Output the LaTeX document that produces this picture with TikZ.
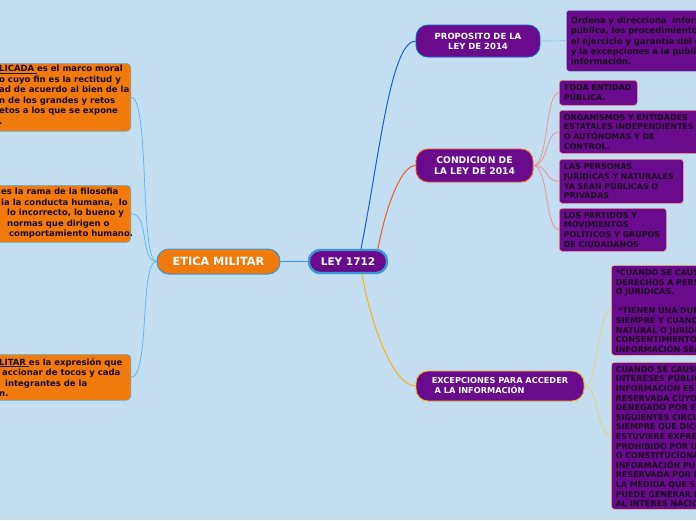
\documentclass[tikz,border=0pt]{standalone}
\usepackage{fontspec}
\setsansfont{DejaVu Sans}
\usetikzlibrary{positioning,calc}
\definecolor{Sky}{HTML}{C3DEF1}
\definecolor{Plum}{HTML}{6A0A8C}
\definecolor{Tangerine}{HTML}{F07A0C}
\definecolor{HubBlue}{HTML}{3A96D6}
\definecolor{PropBlue}{HTML}{1560D0}
\definecolor{CondRed}{HTML}{EE5A2A}
\definecolor{ExcGold}{HTML}{F5B410}
\definecolor{EthLine}{HTML}{5AB6EC}
\definecolor{CondPink}{HTML}{EE9080}
\definecolor{ExcSand}{HTML}{EDCB78}
\definecolor{Ink}{HTML}{1A0A1E}

\begin{document}
\begin{tikzpicture}[x=1pt,y=-1pt,
  hub/.style={rounded corners=11pt,fill=Plum,draw=HubBlue,line width=2.4pt,text=white,inner sep=0pt,
    font=\sffamily\bfseries\fontsize{10.5}{12}\selectfont},
  branch/.style={rounded corners=12pt,fill=Plum,text=white,line width=0.9pt,inner sep=0pt,align=center,
    font=\sffamily\bfseries\fontsize{8.2}{10}\selectfont},
  leaf/.style={rounded corners=3pt,fill=Plum,text=Ink,line width=0.6pt,inner xsep=4.5pt,inner ysep=2pt,
    align=left,anchor=north west,font=\sffamily\bfseries\fontsize{8}{9.6}\selectfont},
  ethbox/.style={rounded corners=4pt,fill=Tangerine,draw=EthLine,line width=0.5pt,anchor=north east,
    minimum width=170pt,inner sep=0pt},
  ethnote/.style={anchor=north west,align=left,inner sep=0pt,text=Ink,
    font=\sffamily\bfseries\fontsize{8.5}{10.5}\selectfont},
  link/.style={line width=0.7pt}]
\useasboundingbox (0,0) rectangle (696,520);
\fill[Sky] (0,0) rectangle (696,520);
\clip (0,0) rectangle (696,520);

% centre and first level
\node[hub,minimum width=78pt,minimum height=23pt] (ley) at (348,261.5) {LEY 1712};
\node[hub,fill=Tangerine,line width=1pt,minimum width=123pt,minimum height=25pt,rounded corners=12pt,
  font=\sffamily\bfseries\fontsize{11.3}{12}\selectfont] (etica) at (218.5,261.5) {ETICA MILITAR};
\node[branch,draw=PropBlue,minimum width=124pt,minimum height=32pt,
  font=\sffamily\bfseries\fontsize{8.5}{10}\selectfont] (proposito) at (478,41) {PROPOSITO DE LA\\LEY DE 2014};
\node[branch,draw=CondRed,minimum width=117pt,minimum height=33pt,
  font=\sffamily\bfseries\fontsize{9.2}{10.7}\selectfont] (condicion) at (474.5,165.5) {CONDICION DE\\LA LEY DE 2014};
\node[branch,draw=ExcGold,align=left,minimum width=168pt,minimum height=30pt] (excepciones) at (500,386)
  {EXCEPCIONES PARA ACCEDER\\\ A LA INFORMACIÓN};

% leaves on the right
\node[leaf,draw=PropBlue!45,text width=230pt,minimum height=61pt,
  font=\sffamily\bfseries\fontsize{8.5}{10.3}\selectfont] (propdesc) at (566,10)
  {Ordena y direcciona\ \ información\\pública, los procedimientos para\\el ejercicio y garantía del derecho\\y la excepciones a la publicidad de la\\información.};
\node[leaf,draw=CondPink,text width=69pt,minimum height=25pt] (toda) at (559,80) {TODA ENTIDAD\\PÚBLICA.};
\node[leaf,draw=CondPink,text width=200pt,minimum height=43pt] (organismos) at (559,110)
  {ORGANISMOS Y ENTIDADES\\ESTATALES INDEPENDIENTES\\O AUTÓNOMAS Y DE\\CONTROL.};
\node[leaf,draw=CondPink,text width=115pt,minimum height=44pt] (personas) at (559,159)
  {LAS PERSONAS\\JURÍDICAS Y NATURALES\\YA SEAN PÚBLICAS O\\PRIVADAS};
\node[leaf,draw=CondPink,text width=98pt,minimum height=43pt] (partidos) at (559,208)
  {LOS PARTIDOS Y\\MOVIMIENTOS\\POLÍTICOS Y GRUPOS\\DE CIUDADANOS};
\node[leaf,draw=ExcSand,text width=250pt,minimum height=90pt] (causa) at (611,265)
  {*CUANDO SE CAUSE DAÑO A LOS\\DERECHOS A PERSONAS NATURALES\\O JURÍDICAS.\\[9.6pt]
   \ *TIENEN UNA DURACIÓN ILIMITADA\\SIEMPRE Y CUANDO LA PERSONA\\NATURAL O JURÍDICA NO DIERA SU\\CONSENTIMIENTO PARA QUE LA\\INFORMACIÓN SEA PUBLICADA};
\node[leaf,draw=ExcSand,text width=250pt,minimum height=147pt] (reserva) at (611,362)
  {CUANDO SE CAUSE DAÑO A LOS\\INTERESES PÚBLICOS LA\\INFORMACIÓN ES CLASIFICADA O\\RESERVADA CUYO ACCESO PODRÁ SER\\DENEGADO POR EXISTIR LAS\\SIGUIENTES CIRCUNSTANCIAS,\\SIEMPRE QUE DICHO ACCESO\\ESTUVIERE EXPRESAMENTE\\PROHIBIDO POR UNA NORMA LEGAL\\O CONSTITUCIONAL. LA\\INFORMACIÓN PUEDE SER\\RESERVADA POR DEFENSA EN\\LA MEDIDA QUE SU DIVULGACIÓN\\PUEDE GENERAR DAÑOS\\AL INTERES NACIONAL};

% leaves on the left
\node[ethbox,minimum height=68pt] (marco) at (131,63) {};
\node[ethnote] (marcotxt) at (-1,65)
  {\underline{LICADA\ }es el marco moral\\o cuyo fin es la rectitud y\\ad de acuerdo al bien de la\\n de los grandes y retos\\etos a los que se expone\\.};
\node[ethbox,minimum height=57pt] (rama) at (131,185) {};
\node[ethnote] (ramatxt) at (1,188)
  {es la rama de la filosofia\\ia la conducta humana,\ \ lo\\\hspace*{6pt}lo incorrecto, lo bueno y\\\hspace*{6pt}normas que dirigen o\\\hspace*{8pt}comportamiento humano.};
\node[ethbox,minimum height=46pt] (accionar) at (131,354) {};
\node[ethnote] (accionartxt) at (-1,358)
  {\underline{LITAR\ }es la expresión que\\\hspace*{3pt}accionar de tocos y cada\\\hspace*{6pt}integrantes de la\\n.};

% connectors
\draw[HubBlue,line width=1.2pt] (ley.west) -- (etica.east);
\draw[PropBlue,line width=1pt] ([xshift=13pt]ley.north) .. controls +(18,-90) and +(-25,0) .. (proposito.west);
\draw[CondRed,line width=1pt] ([xshift=30pt]ley.north) .. controls +(6,-34) and +(-16,0) .. (condicion.west);
\draw[ExcGold,line width=1pt] ([xshift=14pt]ley.south) .. controls +(10,56) and +(-21,0) .. (excepciones.west);
\draw[EthLine!80,link] (proposito.east) -- (propdesc.west);
\foreach \leafname in {toda,organismos,personas,partidos}
  \draw[CondPink,link] (condicion.east) .. controls +(15,0) and +(-14,0) .. (\leafname.west);
\foreach \leafname in {causa,reserva}
  \draw[ExcSand,link] (excepciones.east) .. controls +(14,0) and +(-14,0) .. (\leafname.west);
\foreach \leafname in {marco,rama,accionar}
  \draw[EthLine,link] (etica.west) .. controls +(-17,0) and +(19,0) .. (\leafname.east);
\end{tikzpicture}
\end{document}
